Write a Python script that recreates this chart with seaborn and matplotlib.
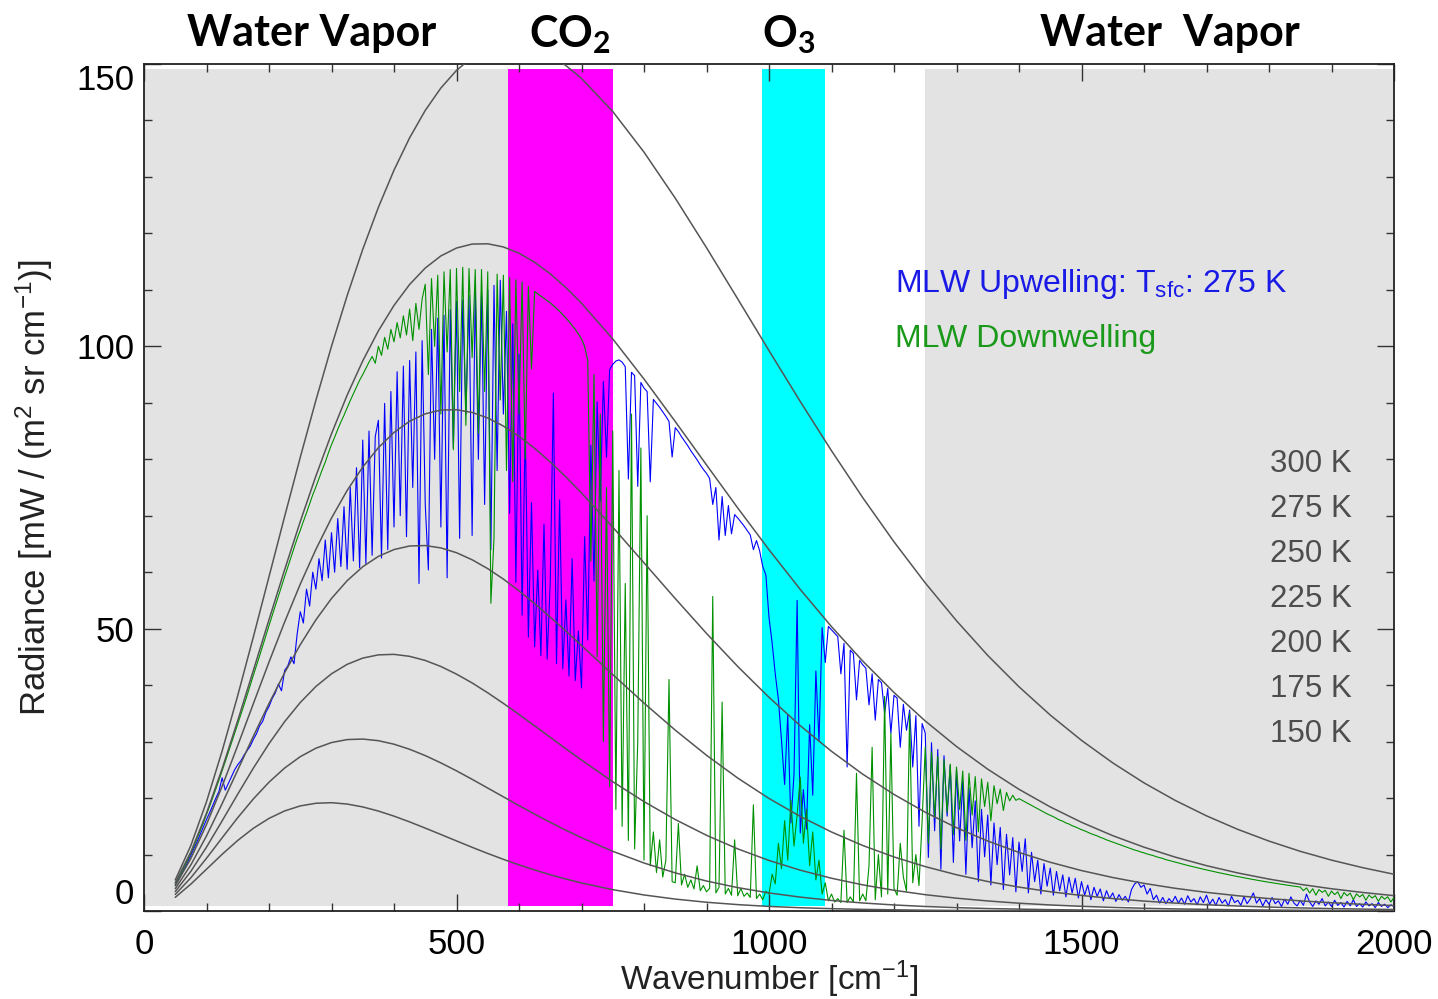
#### Longwave radiance spectra with blackbody curves
# Midlatitude-winter (MLW) upwelling / downwelling spectra on top of
# Planck curves for 150-300 K, with the absorption bands shaded.

import matplotlib
matplotlib.use("Agg")
import numpy as np
import pandas as pd
import matplotlib.pyplot as plt
import seaborn as sns
from matplotlib.ticker import MultipleLocator

#%% Data

# blackbody curves, radiance in mW / (m2 sr cm-1)
nu_bb = [50, 75, 100, 125, 150, 175, 200, 225, 250, 275, 300, 325, 350, 375, 400, 425,
         450, 475, 500, 525, 550, 575, 600, 625, 650, 675, 700,
         750, 800, 850, 900, 950, 1000, 1050, 1100, 1150, 1200, 1250, 1300, 1350,
         1400, 1450, 1500, 1550, 1600, 1650, 1700, 1750, 1800, 1850, 1900, 1950, 2000]
bb_300 = [5.49, 11.61, 19.35, 28.33, 38.17, 48.55, 59.20, 69.86, 80.33, 90.43, 100.01, 108.96,
          117.18, 124.61, 131.20, 136.93, 141.78, 145.75, 148.87, 151.16, 152.64, 153.38, 153.40,
          152.77, 151.52, 149.73, 147.44,
          141.59, 134.39, 126.24, 117.47, 108.39, 99.24, 90.23, 81.51, 73.20, 65.38, 58.10, 51.40,
          45.26, 39.71, 34.70, 30.22, 26.23, 22.69, 19.58, 16.85, 14.46, 12.38, 10.57, 9.01, 7.67, 6.51]
bb_275 = [4.98, 10.46, 17.33, 25.20, 33.73, 42.61, 51.58, 60.43, 68.96, 77.03, 84.52, 91.35,
          97.43, 102.74, 107.25, 110.96, 113.87, 116.01, 117.41, 118.11, 118.16, 117.60, 116.49,
          114.89, 112.84, 110.41, 107.64,
          101.31, 94.21, 86.68, 79.00, 71.37, 63.98, 56.95, 50.36, 44.26, 38.70, 33.65, 29.13,
          25.11, 21.55, 18.43, 15.71, 13.34, 11.30, 9.54, 8.03, 6.74, 5.65, 4.72, 3.94, 3.28, 2.72]
bb_250 = [4.47, 9.31, 15.31, 22.09, 29.32, 36.73, 44.08, 51.18, 57.88, 64.04, 69.59, 74.47,
          78.62, 82.05, 84.75, 86.74, 88.05, 88.71, 88.77, 88.29, 87.31, 85.89, 84.08,
          81.94, 79.52, 76.87, 74.03,
          67.98, 61.66, 55.33, 49.16, 43.30, 37.84, 32.82, 28.28, 24.23, 20.64, 17.49, 14.75,
          12.39, 10.36, 8.63, 7.16, 5.93, 4.89, 4.02, 3.30, 2.70, 2.20, 1.79, 1.46, 1.18, 0.96]
bb_225 = [3.95, 8.17, 13.30, 19.01, 24.97, 30.96, 36.75, 42.19, 47.16, 51.56, 55.35, 58.49,
          60.97, 62.80, 64.01, 64.64, 64.72, 64.30, 63.45, 62.20, 60.63, 58.78, 56.70,
          54.44, 52.05, 49.56, 47.01,
          41.87, 36.82, 32.03, 27.58, 23.54, 19.93, 16.75, 13.99, 11.60, 9.57, 7.86, 6.42,
          5.22, 4.23, 3.41, 2.75, 2.20, 1.76, 1.40, 1.11, 0.88, 0.70, 0.55, 0.43, 0.34, 0.27]
bb_200 = [3.44, 7.03, 11.31, 15.96, 20.70, 25.31, 29.63, 33.53, 36.92, 39.76, 42.01, 43.68,
          44.79, 45.36, 45.45, 45.10, 44.37, 43.30, 41.95, 40.39, 38.64, 36.77, 34.81,
          32.79, 30.76, 28.73, 26.73,
          22.90, 19.37, 16.20, 13.41, 11.00, 8.95, 7.23, 5.80, 4.63, 3.67, 2.89, 2.27,
          1.78, 1.38, 1.07, 0.83, 0.64, 0.49, 0.37, 0.29, 0.22, 0.17, 0.13, 0.09, 0.07, 0.05]
bb_175 = [2.93, 5.89, 9.34, 12.96, 16.53, 19.85, 22.81, 25.32, 27.33, 28.83, 29.83, 30.36,
          30.45, 30.16, 29.54, 28.64, 27.52, 26.23, 24.82, 23.32, 21.77, 20.22, 18.67,
          17.16, 15.70, 14.30, 12.98,
          10.57, 8.50, 6.75, 5.31, 4.14, 3.20, 2.46, 1.87, 1.42, 1.07, 0.80, 0.60,
          0.44, 0.33, 0.24, 0.18, 0.13, 0.09, 0.07, 0.05, 0.04, 0.03, 0.02, 0.01, 0.01, 0.01]
bb_150 = [2.42, 4.77, 7.40, 10.04, 12.50, 14.65, 16.40, 17.72, 18.61, 19.08, 19.18, 18.94,
          18.43, 17.70, 16.80, 15.78, 14.68, 13.55, 12.41, 11.28, 10.19, 9.15, 8.17,
          7.26, 6.42, 5.66, 4.96,
          3.78, 2.84, 2.11, 1.55, 1.13, 0.81, 0.58, 0.41, 0.29, 0.21, 0.14, 0.10,
          0.07, 0.05, 0.03, 0.02, 0.02, 0.01, 0.01, 0.005, 0.003, 0.002, 0.002, 0.001, 0.001, 0.0005]
temps = [300, 275, 250, 225, 200, 175, 150]
bb_curves = [bb_300, bb_275, bb_250, bb_225, bb_200, bb_175, bb_150]

# spectra sampled every 5 cm-1 from 50 to 2000 (one row = 100 cm-1)
nu_spec = list(range(50, 2001, 5))

upwelling = [
    4.6, 5.5, 6.5, 7.6, 8.7, 9.9, 11.1, 12.3, 13.6, 14.9, 16.2, 17.4, 18.7, 20.0, 21.2, 23.6, 21.4, 22.6, 23.8, 25.0,
    25.9, 26.6, 27.6, 28.4, 29.2, 30.4, 31.4, 32.8, 33.6, 35.2, 36.2, 37.6, 38.6, 40.2, 39.0, 42.6, 43.4, 45.0, 43.8, 49.0,
    53.0, 51.0, 57.0, 54.0, 60.0, 57.0, 62.4, 58.5, 65.7, 59.0, 67.0, 60.0, 69.5, 61.0, 71.6, 60.5, 75.0, 62.0, 78.5, 60.8,
    83.4, 61.5, 85.0, 63.0, 84.0, 86.9, 62.5, 89.9, 64.0, 92.0, 68.0, 95.5, 70.0, 96.5, 66.3, 97.5, 75.0, 99.0, 58.0, 101.0,
    72.0, 60.4, 103.0, 80.0, 105.0, 68.0, 105.5, 59.0, 106.5, 82.0, 108.0, 66.0, 108.2, 88.0, 109.0, 66.5, 110.0, 80.0, 109.6, 72.0,
    110.0, 64.0, 110.8, 78.0, 111.7, 88.0, 106.2, 70.4, 104.0, 58.2, 98.6, 52.4, 86.0, 48.5, 72.3, 46.8, 60.4, 45.2, 68.5, 44.6,
    58.2, 91.7, 43.8, 72.8, 42.9, 55.1, 41.6, 62.4, 40.8, 49.6, 39.5, 66.3, 48.0, 82.5, 58.4, 90.2, 72.6, 93.8, 80.4, 95.9,
    96.8, 97.4, 97.6, 97.2, 96.4, 76.5, 95.4, 94.8, 75.2, 93.6, 92.6, 92.0, 76.0, 90.6, 89.9, 89.2, 88.4, 87.6, 86.7, 80.4,
    85.6, 84.9, 84.0, 83.2, 82.4, 81.5, 80.7, 79.9, 79.0, 78.2, 77.5, 76.6, 72.0, 75.0, 65.7, 73.4, 66.5, 71.8, 66.8, 70.2,
    69.6, 68.9, 68.2, 67.4, 66.6, 64.0, 65.6, 63.8, 61.0, 59.5, 52.0, 47.5, 42.0, 37.5, 30.2, 22.4, 34.8, 15.6, 24.2, 55.0,
    13.8, 21.5, 14.5, 33.0, 20.5, 42.5, 30.0, 50.2, 44.0, 50.4, 49.8, 49.2, 48.6, 42.0, 47.4, 25.5, 46.2, 45.6, 37.4, 44.4,
    43.6, 43.0, 36.5, 42.0, 33.8, 41.0, 40.4, 35.0, 39.4, 31.5, 38.2, 37.7, 29.0, 36.6, 32.0, 35.6, 25.5, 34.6, 15.0, 33.2,
    31.5, 9.5, 29.8, 14.2, 28.6, 7.4, 27.5, 16.8, 25.8, 8.6, 25.0, 12.4, 23.0, 6.5, 21.8, 11.2, 19.5, 5.2, 18.0, 9.6,
    17.0, 4.6, 15.6, 8.2, 14.8, 3.8, 13.6, 6.4, 13.0, 3.4, 12.2, 7.0, 12.8, 3.2, 10.4, 5.2, 9.0, 3.0, 8.4, 4.4,
    7.6, 2.8, 7.0, 3.6, 6.4, 2.5, 6.0, 3.2, 5.8, 2.3, 5.2, 2.8, 4.6, 2.0, 4.2, 2.6, 3.9, 1.8, 3.6, 2.2,
    3.2, 1.7, 2.9, 1.9, 2.6, 1.6, 3.8, 4.8, 5.2, 4.2, 4.6, 3.0, 4.0, 2.0, 2.8, 1.4, 2.4, 1.3, 2.2, 1.5,
    2.6, 1.4, 2.3, 1.2, 2.7, 1.6, 2.2, 1.1, 2.5, 1.5, 2.8, 1.2, 2.1, 1.0, 2.4, 1.4, 2.0, 0.9, 2.6, 1.5,
    1.9, 1.0, 2.5, 1.3, 2.1, 3.2, 1.4, 2.2, 0.9, 2.0, 1.2, 2.4, 1.3, 1.8, 0.8, 2.1, 1.2, 2.5, 1.4, 0.9,
    1.9, 1.0, 3.0, 1.6, 0.8, 1.8, 1.2, 2.2, 0.9, 1.6, 0.8, 1.9, 1.0, 1.5, 0.7, 1.7, 0.9, 2.0, 0.8, 1.3,
    0.7, 1.6, 0.9, 1.3, 0.6, 1.5, 0.8, 1.2, 0.6, 1.1, 0.8]

downwelling = [
    4.92, 5.86, 6.88, 7.96, 9.10, 10.30, 11.55, 12.86, 14.22, 15.62, 17.06, 18.54, 20.07, 21.61, 23.20, 24.80, 26.44, 28.10, 29.79, 31.48,
    33.05, 34.80, 36.50, 38.20, 40.00, 41.75, 43.45, 45.20, 46.95, 48.75, 50.55, 52.30, 54.00, 55.75, 57.50, 59.20, 60.90, 62.60, 64.30, 65.95,
    67.4, 69.0, 70.5, 72.1, 73.7, 75.1, 76.6, 78.1, 79.5, 81.1, 82.6, 83.9, 85.3, 86.6, 87.8, 89.1, 90.4, 91.6, 92.8, 94.0,
    95.0, 96.1, 97.2, 98.2, 97.0, 100.0, 98.4, 101.6, 99.5, 103.0, 100.8, 104.2, 101.5, 105.4, 102.0, 106.6, 101.0, 107.6, 103.0, 108.4,
    111.0, 95.0, 112.0, 100.0, 112.6, 88.0, 113.2, 99.0, 113.6, 81.7, 113.8, 92.0, 114.0, 86.0, 113.8, 98.0, 113.6, 84.6, 113.6, 92.0,
    113.2, 54.5, 66.0, 112.8, 90.5, 112.6, 78.0, 112.2, 76.0, 111.8, 88.0, 111.4, 80.0, 110.6, 96.0, 109.7, 109.3, 108.9, 108.5, 108.1,
    107.7, 107.2, 106.7, 106.2, 105.6, 105.0, 104.4, 103.7, 103.0, 102.2, 101.3, 100.0, 97.5, 62.0, 95.0, 45.0, 88.0, 30.0, 75.0, 22.0,
    85.0, 18.0, 78.0, 15.0, 58.0, 12.5, 88.0, 11.0, 30.0, 82.0, 9.0, 70.0, 8.0, 14.0, 6.8, 12.6, 6.0, 9.0, 41.0, 5.2,
    5.0, 15.5, 4.6, 6.5, 4.2, 5.5, 3.9, 8.0, 3.6, 4.5, 3.4, 4.0, 55.7, 3.2, 4.2, 37.0, 3.0, 4.0, 2.8, 12.6,
    2.7, 4.0, 2.6, 3.2, 2.4, 18.8, 2.2, 3.0, 2.0, 3.5, 3.0, 6.5, 4.8, 12.0, 7.5, 16.0, 9.0, 19.6, 11.5, 17.0,
    23.7, 12.0, 18.0, 8.0, 14.0, 5.5, 9.0, 3.0, 5.0, 1.8, 3.0, 1.6, 2.2, 1.5, 14.3, 1.5, 2.5, 1.6, 24.4, 1.8,
    3.0, 1.8, 8.0, 29.0, 2.0, 10.0, 2.5, 38.0, 3.0, 31.5, 4.0, 2.8, 12.0, 6.0, 3.5, 35.0, 5.0, 10.0, 4.5, 16.0,
    29.0, 12.0, 28.2, 16.5, 27.4, 11.0, 26.8, 17.5, 26.0, 13.5, 25.5, 18.0, 24.8, 12.5, 24.4, 17.0, 23.8, 14.0, 23.4, 18.5,
    22.8, 16.0, 22.2, 19.0, 21.6, 17.8, 21.0, 19.5, 20.5, 19.6, 19.9, 19.6, 19.3, 19.0, 18.7, 18.4, 18.1, 17.8, 17.5, 17.2,
    16.95, 16.7, 16.4, 16.1, 15.9, 15.6, 15.4, 15.1, 14.9, 14.65, 14.4, 14.2, 13.95, 13.7, 13.5, 13.3, 13.05, 12.85, 12.6, 12.4,
    12.2, 12.0, 11.8, 11.6, 11.4, 11.2, 11.0, 10.8, 10.65, 10.45, 10.3, 10.1, 9.95, 9.8, 9.6, 9.45, 9.3, 9.1, 8.95, 8.8,
    8.67, 8.5, 8.35, 8.2, 8.07, 7.93, 7.8, 7.65, 7.53, 7.4, 7.28, 7.15, 7.02, 6.9, 6.78, 6.66, 6.54, 6.42, 6.31, 6.2,
    6.09, 5.98, 5.87, 5.77, 5.67, 5.57, 5.47, 5.37, 5.27, 5.18, 5.09, 5.0, 4.91, 4.82, 4.73, 4.65, 4.56, 4.48, 4.4, 4.32,
    4.24, 3.6, 4.09, 3.2, 3.94, 2.8, 3.8, 3.3, 3.66, 2.6, 3.53, 2.9, 3.4, 2.2, 3.28, 2.7, 3.16, 2.0, 3.04, 2.5,
    2.93, 1.9, 2.83, 2.3, 2.72, 1.7, 2.62, 2.1, 2.52, 1.6, 2.42]

# absorption bands (cm-1)
h2o_low = (0, 582)
co2_band = (582, 750)
o3_band = (988, 1090)
h2o_high = (1250, 2000)

#%% Figure appearance
sns.set_theme(style="ticks")
plt.rcParams['font.family'] = ['Liberation Sans', 'DejaVu Sans']
plt.rcParams['mathtext.fontset'] = 'custom'
plt.rcParams['mathtext.rm'] = 'Liberation Sans'
plt.rcParams['mathtext.it'] = 'Liberation Sans:italic'
plt.rcParams['mathtext.bf'] = 'Lato:bold'

fig = plt.figure(figsize=(14.38, 9.99), dpi=100)
ax = fig.add_axes([144/1438, 1 - 911/999, 1250/1438, 847/999])
ax.set_facecolor('white')

# shaded bands
ax.axvspan(*h2o_low, ymin=0.006, ymax=0.994, color='#e3e3e3', lw=0, zorder=0)
ax.axvspan(*h2o_high, ymin=0.006, ymax=0.994, color='#e3e3e3', lw=0, zorder=0)
ax.axvspan(*co2_band, ymin=0.006, ymax=0.994, color='#ff00ff', lw=0, zorder=0)
ax.axvspan(*o3_band, ymin=0.006, ymax=0.994, color='#00ffff', lw=0, zorder=0)

# spectra
spec = pd.DataFrame({'nu': nu_spec, 'up': upwelling, 'down': downwelling})
sns.lineplot(data=spec, x='nu', y='up', ax=ax, color='#0000ff', lw=0.8,
             estimator=None, sort=False, zorder=3)
sns.lineplot(data=spec, x='nu', y='down', ax=ax, color='#009100', lw=0.8,
             estimator=None, sort=False, zorder=3)

# blackbody curves
bb = pd.concat([pd.DataFrame({'nu': nu_bb, 'B': vals, 'T': T})
                for T, vals in zip(temps, bb_curves)])
sns.lineplot(data=bb, x='nu', y='B', units='T', estimator=None, sort=False,
             color='#555555', lw=1.1, ax=ax, zorder=4, legend=False)

ax.set_xlim(0, 2000)
ax.set_ylim(0, 150)
ax.set_xticks([0, 500, 1000, 1500, 2000])
ax.set_yticks([0, 50, 100, 150])
ax.xaxis.set_minor_locator(MultipleLocator(100))
ax.yaxis.set_minor_locator(MultipleLocator(10))
ax.tick_params(which='both', direction='in', top=True, right=True,
               color='#333333', width=1.0, labelsize=25, labelcolor='black')
ax.tick_params(which='major', length=12)
ax.tick_params(which='minor', length=6)
ax.tick_params(axis='x', pad=12)
ax.tick_params(axis='y', pad=7)
for s in ax.spines.values():
    s.set_color('#222222')
    s.set_linewidth(1.3)

ylabels = ax.get_yticklabels()
ylabels[0].set_va('bottom')
ylabels[-1].set_va('top')

ax.set_xlabel("Wavenumber [cm$^{-1}$]", fontsize=24, color='#222222')
ax.set_ylabel("Radiance [mW / (m$^{2}$ sr cm$^{-1}$)]", fontsize=25, color='#222222')
ax.xaxis.set_label_coords(0.5, -0.056)
ax.yaxis.set_label_coords(-0.071, 0.5)

# legend-like labels
ax.text(1202, 109.6, "MLW Upwelling: T$_{\\mathrm{sfc}}$: 275 K", color='#1a1ae6',
        fontsize=23, ha='left', va='baseline', zorder=6)
ax.text(1202, 99.9, "MLW Downwelling", color='#1a991a',
        fontsize=23, ha='left', va='baseline', zorder=6)

for i, T in enumerate(temps):
    ax.text(1933, 77.7 - 7.97 * i, f"{T} K", color='#4d4d4d', fontsize=22.5,
            ha='right', va='baseline', zorder=6)

# band titles above the plot
title_kw = dict(fontsize=31, fontweight='bold', family=['Lato', 'DejaVu Sans'],
                ha='left', va='baseline', color='black')
fig.text(187/1438, 1 - 46/999, "Water Vapor", **title_kw)
fig.text(529/1438, 1 - 47/999, r"CO$_{\mathbf{2}}$", **title_kw)
fig.text(762/1438, 1 - 47/999, r"O$_{\mathbf{3}}$", **title_kw)
fig.text(1040/1438, 1 - 46/999, "Water  Vapor", **title_kw)

fig.savefig("out.png", dpi=100)
